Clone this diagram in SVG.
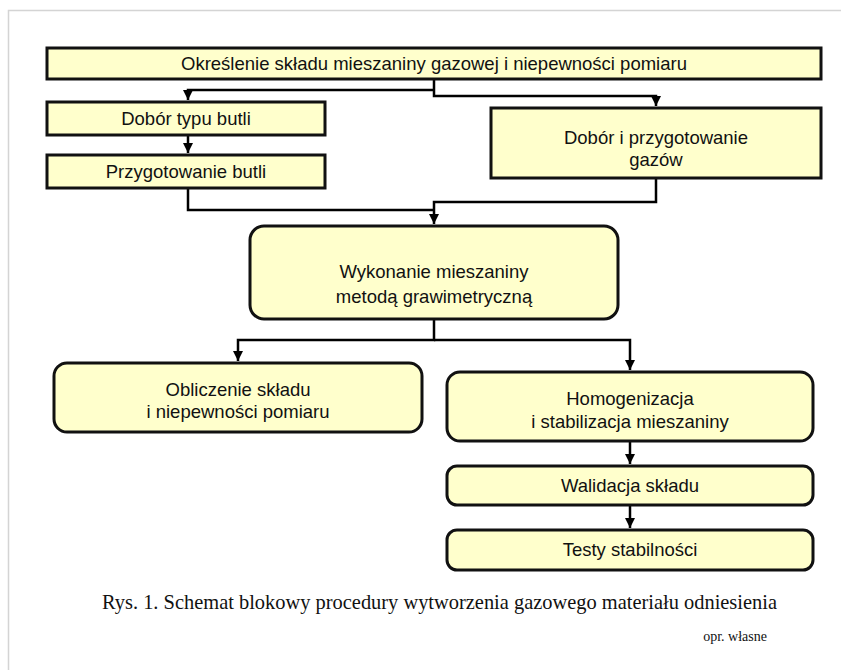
<svg xmlns="http://www.w3.org/2000/svg" width="841" height="670" viewBox="0 0 841 670">
<defs>
<style>
.box{fill:#ffffcc;stroke:#111;stroke-width:3}
.lbl{font-family:"Liberation Sans",Arial,sans-serif;font-size:18.5px;fill:#111;text-anchor:middle}
.con{fill:none;stroke:#000;stroke-width:2.5}
.cap{font-family:"Liberation Serif","Times New Roman",serif;fill:#111}
</style>
<marker id="ad" markerUnits="userSpaceOnUse" markerWidth="10" markerHeight="10" viewBox="0 0 10 10" refX="5" refY="10" orient="0">
<path d="M0,0 L10,0 L5,10 Z" fill="#000"/>
</marker>
</defs>
<rect x="8.5" y="10.5" width="900" height="700" fill="#fff" stroke="#d4d4d4" stroke-width="1.5"/>

<g id="connectors">
<path class="con" d="M434,80 V96 H656 V106" marker-end="url(#ad)"/>
<path class="con" d="M434,90 H188 V100" marker-end="url(#ad)"/>
<path class="con" d="M188,136 V153" marker-end="url(#ad)"/>
<path class="con" d="M188,189 V210 H434"/>
<path class="con" d="M656,179 V202 H434 V224" marker-end="url(#ad)"/>
<path class="con" d="M434,320 V340 H238 V361" marker-end="url(#ad)"/>
<path class="con" d="M434,340 H630 V370" marker-end="url(#ad)"/>
<path class="con" d="M630,442 V464" marker-end="url(#ad)"/>
<path class="con" d="M630,506 V528" marker-end="url(#ad)"/>
</g>

<g id="n1"><rect class="box" x="47" y="48" width="774" height="31"/><text class="lbl" x="434" y="70">Określenie składu mieszaniny gazowej i niepewności pomiaru</text></g>
<g id="n2"><rect class="box" x="47" y="102" width="278" height="33"/><text class="lbl" x="186" y="125">Dobór typu butli</text></g>
<g id="n3"><rect class="box" x="47" y="155" width="278" height="33"/><text class="lbl" x="186" y="178">Przygotowanie butli</text></g>
<g id="n4"><rect class="box" x="491" y="108" width="330" height="70"/><text class="lbl" x="656" y="144">Dobór i przygotowanie</text><text class="lbl" x="656" y="166">gazów</text></g>
<g id="n5"><rect class="box" x="250" y="226" width="368" height="93" rx="14"/><text class="lbl" x="434" y="278">Wykonanie mieszaniny</text><text class="lbl" x="434" y="303">metodą grawimetryczną</text></g>
<g id="n6"><rect class="box" x="54" y="363" width="368" height="69" rx="13"/><text class="lbl" x="238" y="396">Obliczenie składu</text><text class="lbl" x="238" y="418">i niepewności pomiaru</text></g>
<g id="n7"><rect class="box" x="447" y="372" width="366" height="69" rx="13"/><text class="lbl" x="630" y="405">Homogenizacja</text><text class="lbl" x="630" y="428">i stabilizacja mieszaniny</text></g>
<g id="n8"><rect class="box" x="447" y="466" width="366" height="39" rx="10"/><text class="lbl" x="630" y="492">Walidacja składu</text></g>
<g id="n9"><rect class="box" x="447" y="530" width="366" height="40" rx="10"/><text class="lbl" x="630" y="556">Testy stabilności</text></g>

<text class="cap" x="102" y="609" font-size="21" textLength="675" lengthAdjust="spacingAndGlyphs">Rys. 1. Schemat blokowy procedury wytworzenia gazowego materiału odniesienia</text>
<text class="cap" x="767" y="641" font-size="14" text-anchor="end">opr. własne</text>
</svg>
